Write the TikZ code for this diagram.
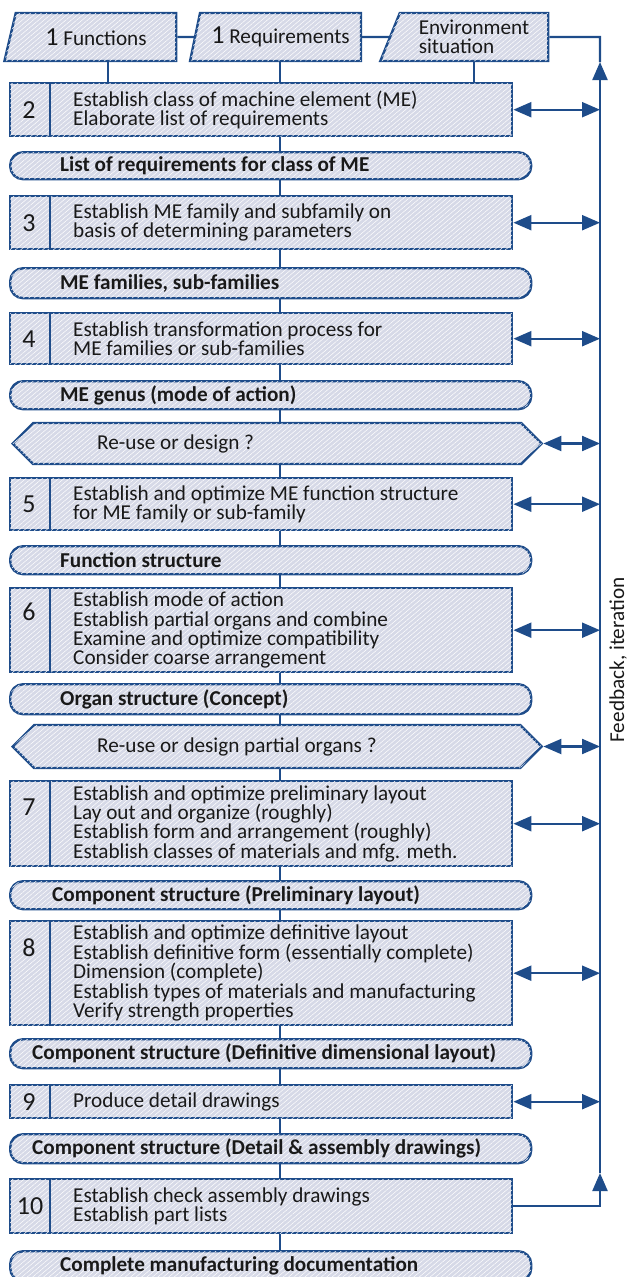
\documentclass[tikz,border=0pt]{standalone}
\usepackage{fontspec}
\setmainfont{Carlito}
\usetikzlibrary{shapes.geometric,shapes.symbols,arrows.meta,patterns.meta}
\definecolor{dblue}{RGB}{30,76,138}
\definecolor{lfill}{RGB}{214,217,231}
\definecolor{ink}{RGB}{25,25,25}
\newcommand{\bodyf}{\fontsize{21.2}{19.4}\selectfont}
\newcommand{\numf}{\fontsize{26}{26}\selectfont}
\begin{document}
\begin{tikzpicture}[x=1pt,y=-1pt,
  shp/.style={draw=dblue, fill=lfill, line width=2.4pt, inner sep=0pt,
    postaction={pattern={Lines[angle=40,distance=3.5pt,line width=0.5pt]}, pattern color=white, fill opacity=0.3}},
  bx/.style={shp, rectangle, anchor=north west, minimum width=502pt},
  pill/.style={shp, rectangle, rounded corners=13pt, anchor=north west, minimum width=521pt},
  hexa/.style={shp, signal, signal to=west and east, signal pointer angle=90, anchor=west, minimum width=529pt},
  para/.style={shp, trapezium, trapezium left angle=67, trapezium right angle=90, trapezium stretches=true, minimum height=48pt, text=ink, font=\bodyf, align=left},
  txt/.style={anchor=west, align=left, inner sep=0pt, text=ink, font=\bodyf},
  btxt/.style={anchor=west, inner sep=0pt, text=ink, font=\bodyf\bfseries},
  num/.style={inner sep=0pt, text=ink, font=\numf},
  conn/.style={draw=dblue, line width=2.2pt},
  divl/.style={draw=dblue, line width=2.6pt},
  tip/.style={-{Triangle[length=18pt,width=15pt]}},
  dbl/.style={conn, {Triangle[length=18pt,width=15pt]}-{Triangle[length=18pt,width=15pt]}}
]
\useasboundingbox (0,0) rectangle (627,1277);
% helper coordinates
\coordinate (cx) at (280,0);
\coordinate (c1) at (108,0);
\coordinate (c3) at (474,0);
\coordinate (fbt) at (600,37);
\coordinate (ua) at (600,62);
\coordinate (la) at (600,1173);

% top row
\node[para, minimum width=172pt] (fun) at (96,37) {{\numf 1} Functions};
\node[para, minimum width=171pt] (req) at (280.5,37) {{\numf 1} Requirements};
\node[para, minimum width=168pt] (env) at (474,37) {Environment\\situation};

% boxes and pills
\node[bx, minimum height=53pt] (b2) at (9,82) {};
\node[pill, minimum height=27pt] (p1) at (9,151) {};
\node[bx, minimum height=53pt] (b3) at (9,195) {};
\node[pill, minimum height=30pt] (p2) at (9,267) {};
\node[bx, minimum height=51pt] (b4) at (9,312) {};
\node[pill, minimum height=28pt] (p3) at (9,380) {};
\node[hexa, minimum height=41pt] (h1) at (11,443.5) {};
\node[bx, minimum height=52pt] (b5) at (9,477) {};
\node[pill, minimum height=28pt] (p4) at (9,545) {};
\node[bx, minimum height=84pt] (b6) at (9,587) {};
\node[pill, minimum height=30pt] (p5) at (9,683) {};
\node[hexa, minimum height=43pt] (h2) at (11,746.5) {};
\node[bx, minimum height=85pt] (b7) at (9,780) {};
\node[pill, minimum height=28pt] (p6) at (9,880) {};
\node[bx, minimum height=104pt] (b8) at (9,920) {};
\node[pill, minimum height=29pt] (p7) at (9,1038) {};
\node[bx, minimum height=33pt] (b9) at (9,1084) {};
\node[pill, minimum height=29pt] (p8) at (9,1133) {};
\node[bx, minimum height=54pt] (b10) at (9,1178) {};
\node[pill, minimum height=30pt] (p9) at (9,1250) {};

% dividers
\foreach \b in {b2,b3,b4,b5,b6,b7,b8,b9,b10}
  \draw[divl] ([xshift=41pt]\b.north west) -- ([xshift=41pt]\b.south west);

% numbers
\node[num] (n2) at ([xshift=20pt]b2.west) {2};
\node[num] (n3) at ([xshift=20pt]b3.west) {3};
\node[num] (n4) at ([xshift=20pt]b4.west) {4};
\node[num] (n5) at ([xshift=20pt]b5.west) {5};
\node[num] (n6) at ([xshift=20pt,yshift=-25pt]b6.north west) {6};
\node[num] (n7) at ([xshift=20pt,yshift=-27pt]b7.north west) {7};
\node[num] (n8) at ([xshift=20pt,yshift=-28pt]b8.north west) {8};
\node[num] (n9) at ([xshift=20pt]b9.west) {9};
\node[num] (n10) at ([xshift=21pt]b10.west) {10};

% box texts
\node[txt] (t2) at ([xshift=64pt]b2.west) {Establish class of machine element (ME)\\Elaborate list of requirements};
\node[txt] (t3) at ([xshift=64pt]b3.west) {Establish ME family and subfamily on\\basis of determining parameters};
\node[txt] (t4) at ([xshift=64pt]b4.west) {Establish transformation process for\\ME families or sub-families};
\node[txt] (t5) at ([xshift=64pt]b5.west) {Establish and optimize ME function structure\\for ME family or sub-family};
\node[txt] (t6) at ([xshift=64pt]b6.west) {Establish mode of action\\Establish partial organs and combine\\Examine and optimize compatibility\\Consider coarse arrangement};
\node[txt] (t7) at ([xshift=64pt]b7.west) {Establish and optimize preliminary layout\\Lay out and organize (roughly)\\Establish form and arrangement (roughly)\\Establish classes of materials and mfg. meth.};
\node[txt] (t8) at ([xshift=64pt]b8.west) {Establish and optimize definitive layout\\Establish definitive form (essentially complete)\\Dimension (complete)\\Establish types of materials and manufacturing\\Verify strength properties};
\node[txt] (t9) at ([xshift=64pt]b9.west) {Produce detail drawings};
\node[txt] (t10) at ([xshift=64pt]b10.west) {Establish check assembly drawings\\Establish part lists};

% pill texts
\node[btxt] (q1) at ([xshift=51pt]p1.west) {List of requirements for class of ME};
\node[btxt] (q2) at ([xshift=51pt]p2.west) {ME families, sub-families};
\node[btxt] (q3) at ([xshift=51pt]p3.west) {ME genus (mode of action)};
\node[btxt] (q4) at ([xshift=51pt]p4.west) {Function structure};
\node[btxt] (q5) at ([xshift=51pt]p5.west) {Organ structure (Concept)};
\node[btxt] (q6) at ([xshift=43pt]p6.west) {Component structure (Preliminary layout)};
\node[btxt] (q7) at ([xshift=23pt]p7.west) {Component structure (Definitive dimensional layout)};
\node[btxt] (q8) at ([xshift=23pt]p8.west) {Component structure (Detail \& assembly drawings)};
\node[btxt] (q9) at ([xshift=51pt]p9.west) {Complete manufacturing documentation};

% hex texts
\node[txt] (s1) at ([xshift=86pt]h1.west) {Re-use or design ?};
\node[txt] (s2) at ([xshift=86pt]h2.west) {Re-use or design partial organs ?};

% top connectors
\draw[conn] (fun.east) -- (req.west);
\draw[conn] (req.east) -- (env.west);
\draw[conn] (fun.south -| c1) -- (b2.north -| c1);
\draw[conn] (req.south -| cx) -- (b2.north -| cx);
\draw[conn] (env.south -| c3) -- (b2.north -| c3);

% central connectors
\draw[conn] (b2.south -| cx) -- (p1.north -| cx);
\draw[conn] (p1.south -| cx) -- (b3.north -| cx);
\draw[conn] (b3.south -| cx) -- (p2.north -| cx);
\draw[conn] (p2.south -| cx) -- (b4.north -| cx);
\draw[conn] (b4.south -| cx) -- (p3.north -| cx);
\draw[conn] (p3.south -| cx) -- (h1.north -| cx);
\draw[conn] (h1.south -| cx) -- (b5.north -| cx);
\draw[conn] (b5.south -| cx) -- (p4.north -| cx);
\draw[conn] (p4.south -| cx) -- (b6.north -| cx);
\draw[conn] (b6.south -| cx) -- (p5.north -| cx);
\draw[conn] (p5.south -| cx) -- (h2.north -| cx);
\draw[conn] (h2.south -| cx) -- (b7.north -| cx);
\draw[conn] (b7.south -| cx) -- (p6.north -| cx);
\draw[conn] (p6.south -| cx) -- (b8.north -| cx);
\draw[conn] (b8.south -| cx) -- (p7.north -| cx);
\draw[conn] (p7.south -| cx) -- (b9.north -| cx);
\draw[conn] (b9.south -| cx) -- (p8.north -| cx);
\draw[conn] (p8.south -| cx) -- (b10.north -| cx);
\draw[conn] (b10.south -| cx) -- (p9.north -| cx);

% feedback loop
\draw[conn, tip] (b10.east) -| (la);
\draw[conn, tip] (la) -- (ua);
\draw[conn] (ua) -- (fbt) -- (env.east);
\foreach \b in {b2,b3,b4,h1,b5,b6,h2,b7,b8,b9}
  \draw[dbl] (\b.east) -- (\b.east -| fbt);
\node[rotate=90, inner sep=0pt, text=ink, font=\bodyf] (fbl) at (618,660) {Feedback, iteration};
\end{tikzpicture}
\end{document}
